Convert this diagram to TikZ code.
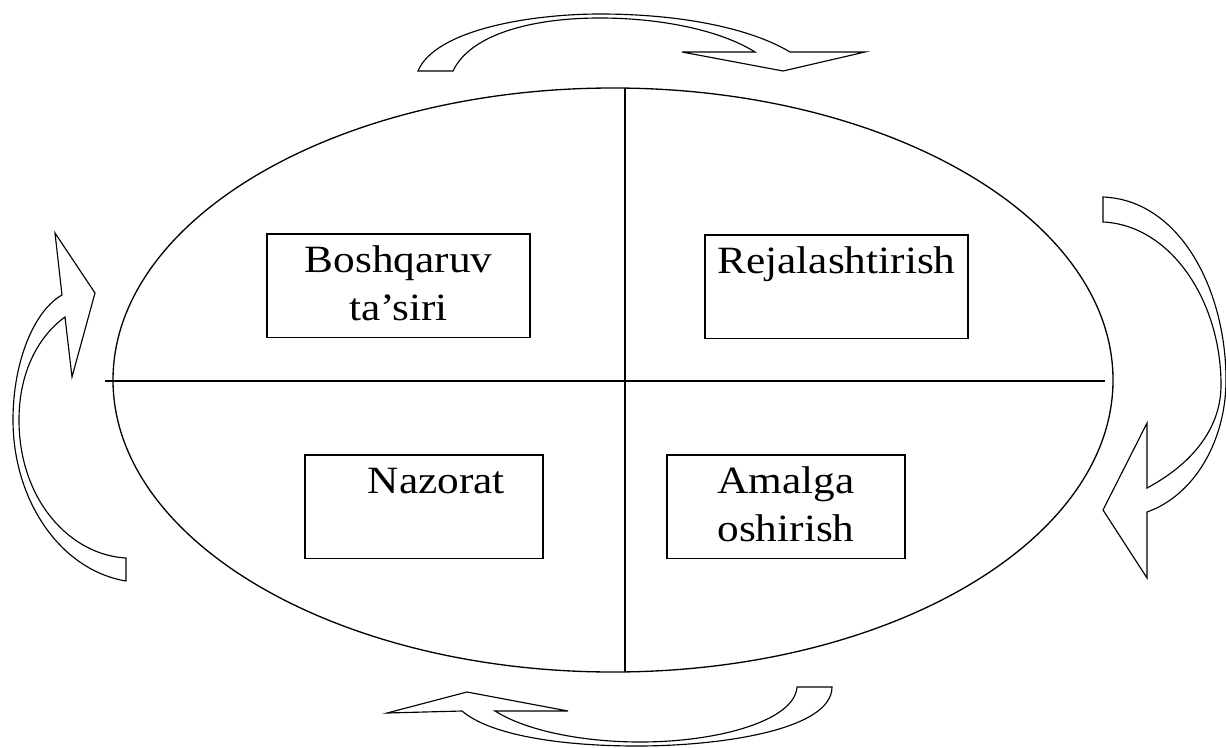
\documentclass[tikz,border=0pt]{standalone}
\usepackage{fontspec}
\setmainfont{Liberation Serif}
\newfontfamily\boxfont[FakeStretch=1.12]{Liberation Serif}
\usepackage{tikz}

\begin{document}
\begin{tikzpicture}[x=0.02cm,y=-0.02cm,
  stage/.style={draw,line width=0.9pt,inner sep=0pt,align=center,
                text height=22.2pt,text depth=36.8pt,
                font=\boxfont\fontsize{22}{27.3}\selectfont},
  stagetwo/.style={stage,text height=49.5pt,text depth=9.5pt},
  bigarrow/.style={draw,line width=0.65pt,line join=miter,fill=white}]
  \useasboundingbox (0,0) rectangle (1226,747);
  % The four management functions inside the ellipse.
  \draw[line width=0.75pt] (613,380) ellipse [x radius=500,y radius=292];
  \coordinate (hl) at (105,381);
  \coordinate (hr) at (1105,381);
  \coordinate (vt) at (625,88);
  \coordinate (vb) at (625,672);
  \draw[line width=0.75pt] (hl)--(hr) (vt)--(vb);
  \node[stagetwo,minimum width=5.26cm,anchor=north] (tasir) at (398.5,233)
    {Boshqaruv\\ta’siri};
  \node[stage,minimum width=5.26cm,anchor=north] (reja) at (836.5,234)
    {Rejalashtirish};
  \node[stage,minimum width=4.76cm,anchor=north] (nazorat) at (424,454)
    {\hspace*{14pt}Nazorat};
  \node[stagetwo,minimum width=4.76cm,anchor=north] (amalga) at (786,454)
    {Amalga\\oshirish};

  % Block arrows running round the cycle.
  \draw[bigarrow] (418,71) .. controls (435,30) and (530,14) .. (600,14)
    .. controls (680,14) and (750,28) .. (790,52)
    -- (865,52) -- (783,71) -- (682,52) -- (755,52)
    .. controls (720,30) and (660,18) .. (600,18)
    .. controls (530,18) and (470,35) .. (453,71) -- cycle;
  \draw[bigarrow] (1103,197) .. controls (1180,200) and (1226,290) .. (1226,380)
    .. controls (1226,440) and (1195,495) .. (1147,512)
    -- (1147,578) -- (1103,510) -- (1147,423) -- (1147,488)
    .. controls (1190,465) and (1221,430) .. (1221,385)
    .. controls (1221,300) and (1170,225) .. (1103,222) -- cycle;
  \draw[bigarrow] (832,687) .. controls (832,730) and (720,746) .. (637,746)
    .. controls (560,746) and (490,735) .. (462,711)
    -- (387,713) -- (467,692) -- (568,711) -- (495,711)
    .. controls (530,733) and (590,742) .. (640,742)
    .. controls (720,742) and (795,720) .. (797,687) -- cycle;
  \draw[bigarrow] (126,581) .. controls (60,570) and (13,500) .. (13,420)
    .. controls (13,360) and (35,310) .. (62,295)
    -- (55,233) -- (95,293) -- (72,377) -- (65,317)
    .. controls (40,335) and (19,370) .. (19,420)
    .. controls (19,500) and (70,555) .. (126,558) -- cycle;
\end{tikzpicture}
\end{document}
